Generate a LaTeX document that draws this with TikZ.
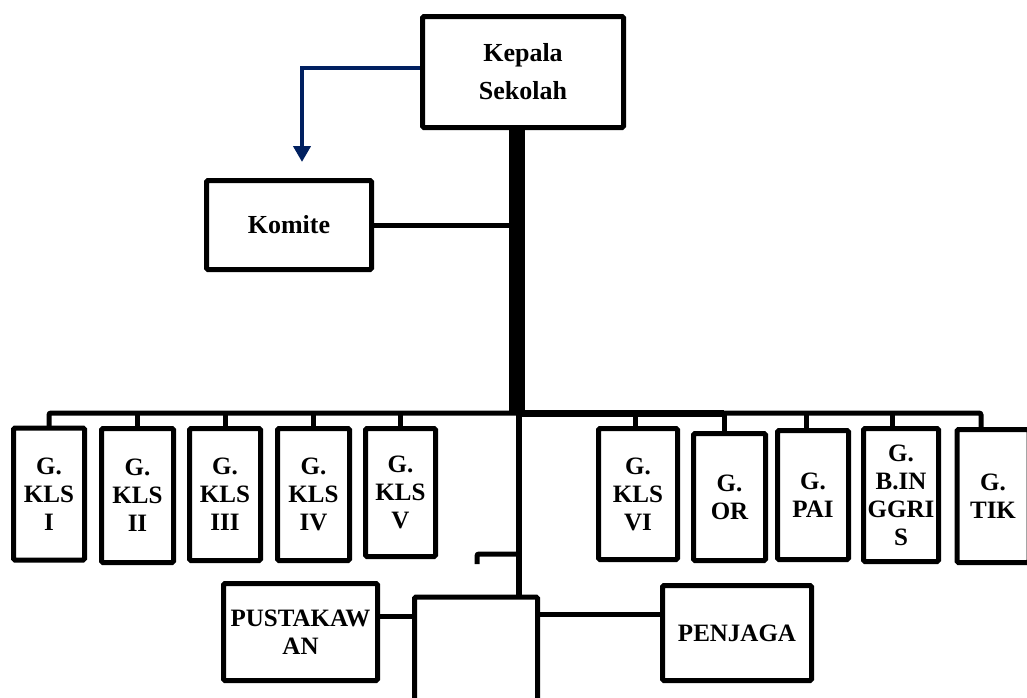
\documentclass[tikz,border=0pt]{standalone}
\usepackage{fontspec}
\setmainfont{Liberation Serif}
\usetikzlibrary{arrows.meta}
\definecolor{navy}{RGB}{0,32,96}
\begin{document}
\begin{tikzpicture}[x=1pt,y=-1pt,
  box/.style={draw,line width=5pt,rounded corners=1.5pt,align=center,inner sep=0pt,
    font=\bfseries\fontsize{25}{28}\selectfont},
  gbox/.style={box,minimum width=71pt,minimum height=132pt},
  conn/.style={line width=5pt},
  line cap=rect]
\useasboundingbox (0,0) rectangle (1027,697);
\clip (0,0) rectangle (1027,697);
% top
\node[box,minimum width=201pt,minimum height=111pt,font=\bfseries\fontsize{26}{38}\selectfont] (kepala) at (523,72) {Kepala\\Sekolah};
\node[box,minimum width=165pt,minimum height=89pt,font=\bfseries\fontsize{26}{30}\selectfont] (komite) at (289,225) {Komite};
% left teachers
\node[gbox] (k1) at (49,494) {G.\\KLS\\I};
\node[gbox,minimum width=72pt,minimum height=134pt] (k2) at (137.5,495.5) {G.\\KLS\\II};
\node[gbox] (k3) at (225,494.5) {G.\\KLS\\III};
\node[gbox,minimum width=72pt] (k4) at (313.5,494.5) {G.\\KLS\\IV};
\node[gbox,minimum width=70pt,minimum height=128pt] (k5) at (400.5,492.5) {G.\\KLS\\V};
% right teachers
\node[gbox,minimum width=79pt,minimum height=131pt] (k6) at (638,494) {G.\\KLS\\VI};
\node[gbox,minimum width=72pt,minimum height=127pt] (or) at (729.5,497) {G.\\OR};
\node[gbox,minimum height=129pt] (pai) at (813,495) {G.\\PAI};
\node[gbox,minimum width=75pt,minimum height=133pt] (ing) at (901,495) {G.\\B.IN\\GGRI\\S};
\node[gbox,minimum width=72pt,minimum height=133pt] (tik) at (993,496) {G.\\TIK};
% bottom
\node[box,minimum width=123pt,minimum height=110pt] (bot) at (476,652) {};
\node[box,minimum width=154pt,minimum height=97pt] (pus) at (300.5,632) {PUSTAKAW\\AN};
\node[box,minimum width=149pt,minimum height=95pt] (pen) at (737,633) {PENJAGA};
% coordinates
\coordinate (bus) at (517,413);
\coordinate (busL) at (49,413);
\coordinate (busR) at (981,413);
\coordinate (bend) at (302,68);
\coordinate (tip) at (302,162);
\coordinate (stubA) at (519,554);
\coordinate (stubB) at (477,554);
\coordinate (stubC) at (477,564);
% blue arrow
\draw[navy,line width=4pt,line cap=butt,-{Triangle[width=17pt,length=16pt]}] (kepala.west |- bend) -- (bend) -- (tip);
% trunk
\draw[line width=16pt,line cap=butt] (kepala.south -| bus) -- ([yshift=2pt]bus);
\draw[conn] (komite.east) -- (komite.east -| bus);
% bus
\draw[conn,rounded corners=2pt] (k1.north) -- (busL) -- (bus);
\draw[line width=7pt,line cap=butt] (bus) -- (724,413);
\draw[conn,rounded corners=2pt] (724,413) -- (busR) -- ([xshift=-12pt]tik.north);
\foreach \n in {k2,k3,k4,k5} \draw[conn] (\n.north) -- (\n.north |- bus);
\draw[conn] ([xshift=-3pt]k6.north) -- ([xshift=-3pt]k6.north |- bus);
\draw[conn] ([xshift=-5.5pt]or.north) -- ([xshift=-5.5pt]or.north |- bus);
\draw[conn] ([xshift=-7pt]pai.north) -- ([xshift=-7pt]pai.north |- bus);
\draw[conn] ([xshift=-9pt]ing.north) -- ([xshift=-9pt]ing.north |- bus);
% lower trunk
\draw[line width=6pt,line cap=butt] (bus -| stubA) -- (bot.north -| stubA);
\draw[conn,line cap=butt,rounded corners=2pt] (stubA) -- (stubB) -- (stubC);
\draw[conn,line cap=butt] (pus.east |- 0,616) -- (bot.west |- 0,616);
\draw[conn,line cap=butt] (bot.east |- 0,614) -- (pen.west |- 0,614);
\end{tikzpicture}
\end{document}
